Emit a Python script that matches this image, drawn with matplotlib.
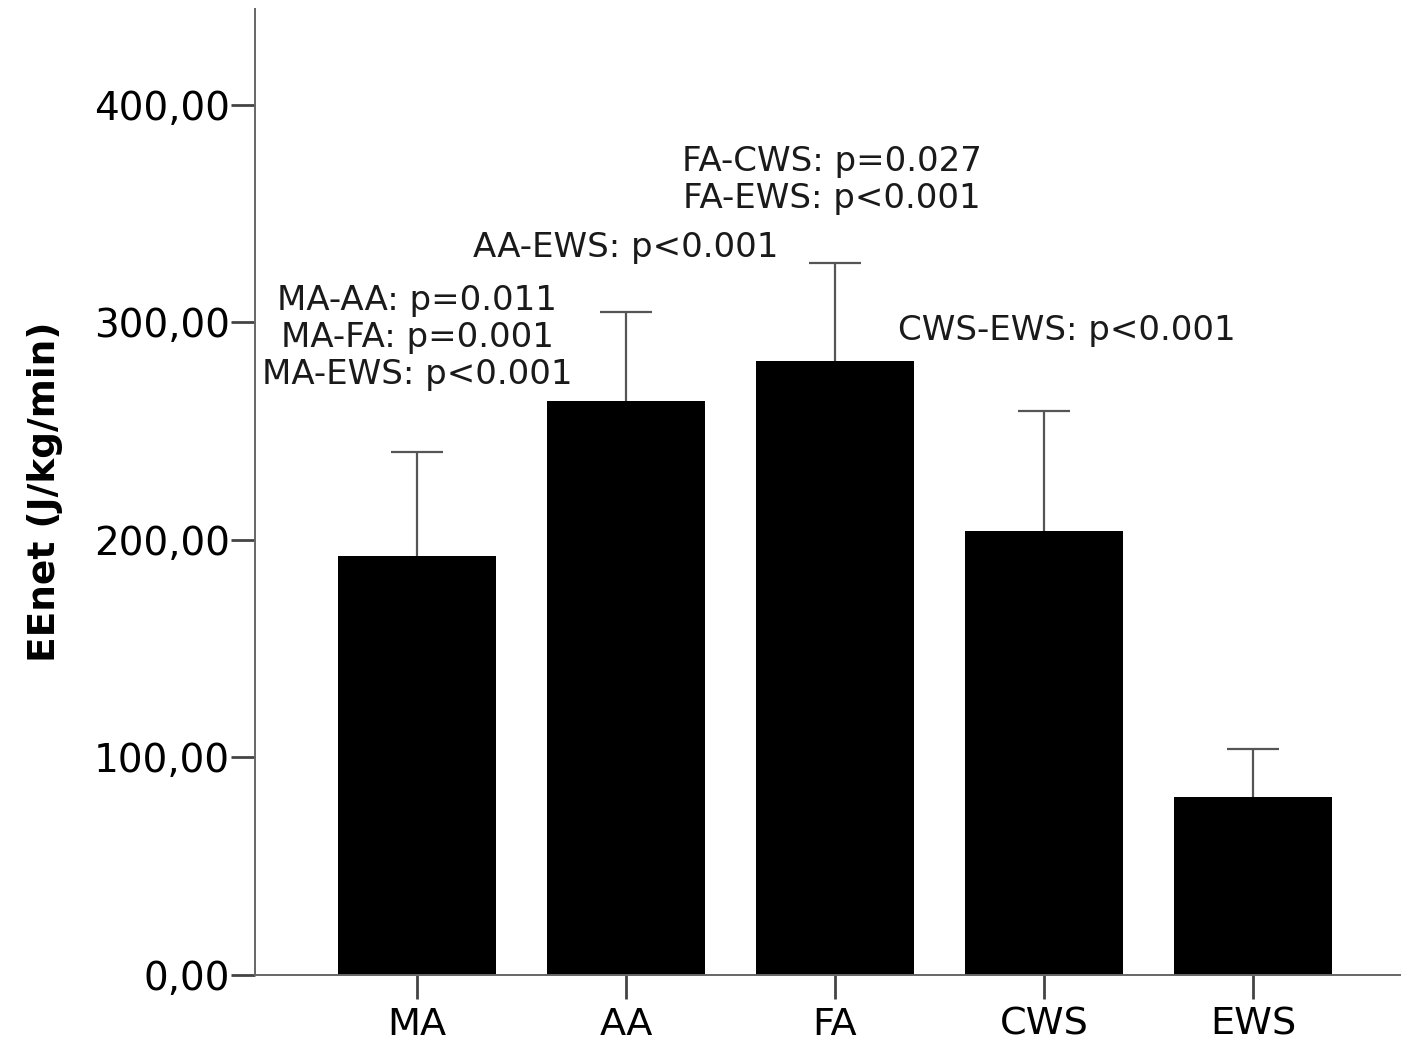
import numpy as np
import matplotlib
matplotlib.use("Agg")
import matplotlib.pyplot as plt

# conditions and EEnet values (mean, SD)
groups = ["MA", "AA", "FA", "CWS", "EWS"]
means = [192.6, 263.9, 282.0, 204.1, 81.7]
sds = [48.0, 40.9, 45.2, 55.2, 22.1]
tick_vals = [0, 100, 200, 300, 400]
tick_labels = ["0,00", "100,00", "200,00", "300,00", "400,00"]

# post-hoc comparisons written above each bar
notes = {
    "MA": ["MA-AA: p=0.011", "MA-FA: p=0.001", "MA-EWS: p<0.001"],
    "AA": ["AA-EWS: p<0.001"],
    "FA": ["FA-CWS: p=0.027", "FA-EWS: p<0.001"],
    "CWS": ["CWS-EWS: p<0.001"],
}
# (x shift, y of lowest line) in pixels above the error bar top
note_offsets = {"MA": (0, 77), "AA": (0, 64), "FA": (-3, 65), "CWS": (23, 80)}

plt.rcParams["font.family"] = "DejaVu Sans"

fig = plt.figure(figsize=(14.02, 10.43), dpi=100)
ax = fig.add_axes([0.1819, 0.0652, 0.8167, 0.9262])

x = np.arange(len(groups))
ax.bar(x, means, width=0.756, color="black", zorder=2)
# symmetric bars, lower half hidden behind the bars
ax.errorbar(x, means, yerr=sds, fmt="none",
            ecolor="#555555", elinewidth=1.6, capsize=18.4, capthick=1.6, zorder=1)

for i, g in enumerate(groups):
    if g not in notes:
        continue
    dx, dy = note_offsets[g]
    lines = notes[g]
    for k, line in enumerate(reversed(lines)):
        ax.annotate(line, xy=(i, means[i] + sds[i]), xytext=(dx, dy + k * 37),
                    textcoords="offset pixels", ha="center", va="center",
                    fontsize=24.5, color="#1a1a1a")

ax.set_xlim(-0.775, 4.703)
ax.set_ylim(0, 444)
ax.set_xticks(x)
ax.set_xticklabels(groups, fontsize=27.5)
ax.set_yticks(tick_vals)
ax.set_yticklabels(tick_labels, fontsize=28)
ax.tick_params(axis="both", direction="out", length=17, width=2, color="#444444")
ax.tick_params(axis="x", pad=6)
ax.tick_params(axis="y", pad=1)
ax.set_ylabel("EEnet (J/kg/min)", fontsize=27, fontweight="bold", labelpad=22)

for s in ["top", "right"]:
    ax.spines[s].set_visible(False)
for s in ["left", "bottom"]:
    ax.spines[s].set_color("#666666")
    ax.spines[s].set_linewidth(1.4)

fig.savefig("out.png", dpi=100)
